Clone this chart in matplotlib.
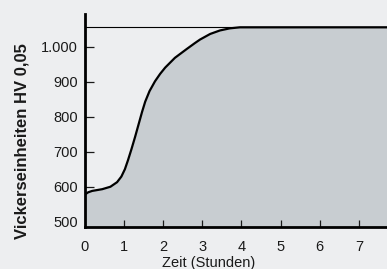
import matplotlib
matplotlib.use('Agg')
import matplotlib.pyplot as plt

# Zeit in Stunden / Haerte in HV 0,05
zeit = [0, 0.08, 0.18, 0.44, 0.65, 0.82, 0.93, 1.02, 1.10, 1.19, 1.28, 1.37,
        1.46, 1.54, 1.65, 1.79, 1.92, 2.05, 2.30, 2.60, 2.81, 2.94, 3.20,
        3.45, 3.70, 3.96, 7.72]
haerte = [578, 584, 588, 593, 600, 613, 629, 650, 676, 708, 742, 778,
          814, 843, 873, 901, 922, 940, 968, 993, 1010, 1020, 1036,
          1046, 1052, 1055, 1055]
plateau = 1055
x_ticks = [0, 1, 2, 3, 4, 5, 6, 7]
y_ticks = [500, 600, 700, 800, 900, 1000]
y_labels = ['500', '600', '700', '800', '900', '1.000']

plt.rcParams['font.family'] = ['Liberation Sans', 'DejaVu Sans']
bg = '#edeef0'
fill_col = '#c8cdd1'
txt = '#1a1a1a'

fig = plt.figure(figsize=(3.87, 2.69), dpi=100, facecolor=bg)
ax = fig.add_axes([0.2196, 0.156, 0.7804, 0.792])
ax.set_facecolor(bg)

ax.fill_between(zeit, haerte, 485, color=fill_col, lw=0, zorder=1)
ax.axhline(plateau, color='black', lw=0.8, zorder=2)
ax.plot(zeit, haerte, color='black', lw=1.6, zorder=3, solid_joinstyle='round')

ax.set_xlim(0, 7.72)
ax.set_ylim(485, 1093)
ax.set_xticks(x_ticks)
ax.set_yticks(y_ticks)
ax.set_yticklabels(y_labels)

for s in ['top', 'right']:
    ax.spines[s].set_visible(False)
for s in ['left', 'bottom']:
    ax.spines[s].set_linewidth(2)
    ax.spines[s].set_zorder(4)

ax.tick_params(axis='x', direction='in', length=5, width=0.9, pad=9.5,
               labelsize=10.5, colors=txt)
ax.tick_params(axis='y', direction='in', length=6.5, width=0.9, pad=5,
               labelsize=10.5, colors=txt)
ax.yaxis.get_major_ticks()[0].tick1line.set_visible(False)
ax.xaxis.get_major_ticks()[0].tick1line.set_visible(False)

fig.text(161.5 / 387, 1 - 267.5 / 269, 'Zeit (Stunden)', ha='left', va='baseline',
         fontsize=10.5, color=txt)
fig.text(21.7 / 387, 1 - 141 / 269, 'Vickerseinheiten HV 0,05', rotation=90,
         ha='center', va='center', fontsize=12, fontweight='bold', color=txt)

fig.savefig('out.png', dpi=100, facecolor=bg)
